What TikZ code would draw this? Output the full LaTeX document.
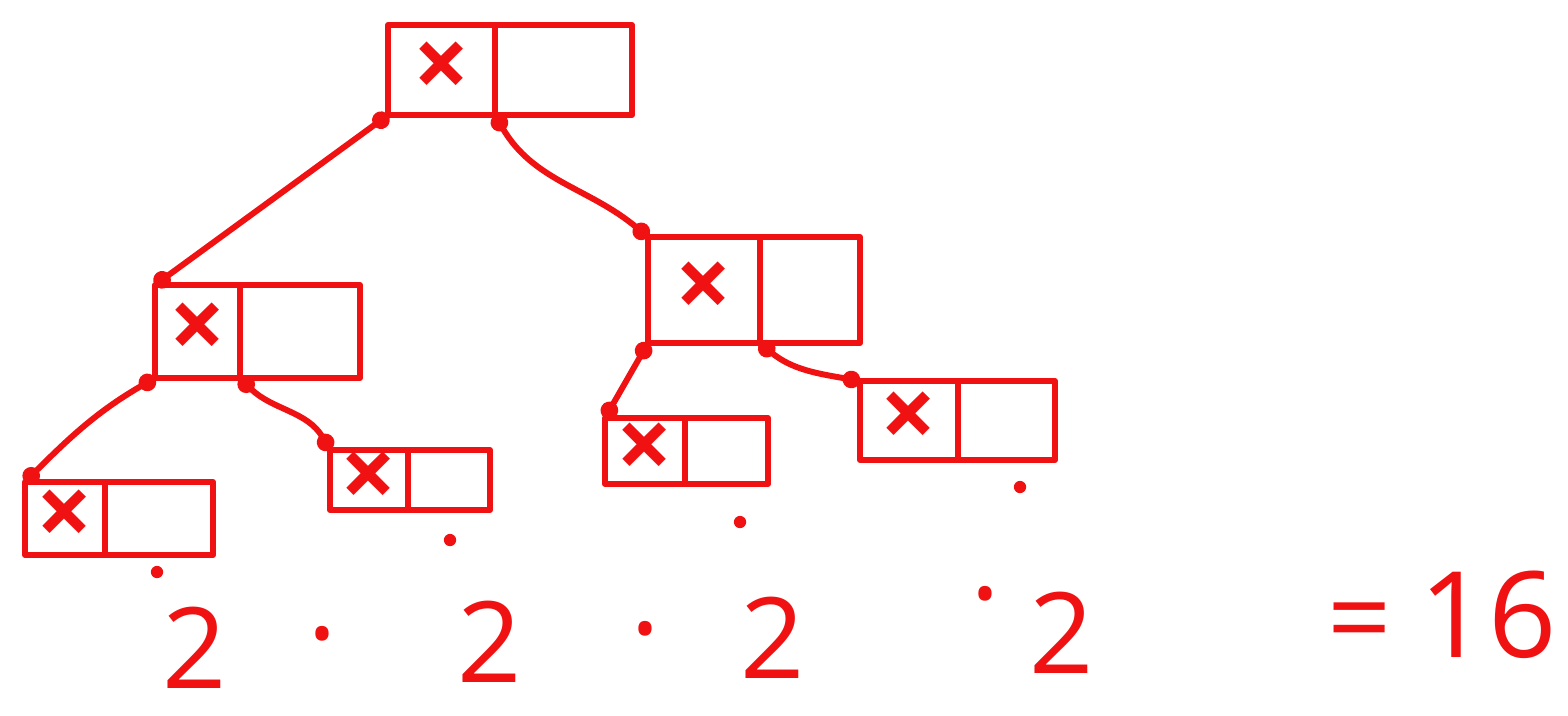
\documentclass[tikz,border=0pt]{standalone}
\usepackage{fontspec}
\setmainfont{Open Sans}
\usetikzlibrary{arrows.meta, positioning}
\definecolor{ink}{RGB}{240, 18, 18}

\tikzset{
  cell/.style={draw=ink, line width=1.7pt, outer sep=0pt, inner sep=0pt,
    line join=round, text=ink, font=\fontsize{28}{28}\selectfont\bfseries},
  link/.style={draw=ink, line width=1.7pt, line cap=round,
    {Circle[length=5pt]}-{Circle[length=5pt]}},
  pdot/.style={circle, fill=ink, inner sep=0pt, minimum size=3.5pt},
  digit/.style={text=ink, inner sep=0pt, font=\fontsize{32}{32}\selectfont}
}

\begin{document}
\begin{tikzpicture}
  \useasboundingbox (0,0) rectangle (15.68,-7.15);

  % root
  \node[cell, anchor=north west, minimum width=1.07cm, minimum height=0.9cm] (rootk) at (3.88,-0.25) {×};
  \node[cell, minimum width=1.37cm, minimum height=0.9cm, right=0pt of rootk] (rootv) {};

  % second level
  \node[cell, anchor=north west, minimum width=0.85cm, minimum height=0.93cm] (lk) at (1.55,-2.85) {×};
  \node[cell, minimum width=1.2cm, minimum height=0.93cm, right=0pt of lk] (lv) {};
  \node[cell, anchor=north west, minimum width=1.12cm, minimum height=1.06cm] (rk) at (6.48,-2.37) {×};
  \node[cell, minimum width=1.0cm, minimum height=1.06cm, right=0pt of rk] (rv) {};

  % leaves
  \node[cell, anchor=north west, minimum width=0.8cm, minimum height=0.73cm] (llk) at (0.25,-4.82) {×};
  \node[cell, minimum width=1.08cm, minimum height=0.73cm, right=0pt of llk] (llv) {};
  \node[cell, anchor=north west, minimum width=0.78cm, minimum height=0.6cm] (lrk) at (3.30,-4.50) {×};
  \node[cell, minimum width=0.82cm, minimum height=0.6cm, right=0pt of lrk] (lrv) {};
  \node[cell, anchor=north west, minimum width=0.8cm, minimum height=0.66cm] (rlk) at (6.05,-4.18) {×};
  \node[cell, minimum width=0.83cm, minimum height=0.66cm, right=0pt of rlk] (rlv) {};
  \node[cell, anchor=north west, minimum width=0.98cm, minimum height=0.79cm] (rrk) at (8.60,-3.81) {×};
  \node[cell, minimum width=0.97cm, minimum height=0.79cm, right=0pt of rrk] (rrv) {};

  % pointers
  \draw[link] (rootk.south west) -- (lk.north west);
  \draw[link] (rootk.south east) to[out=-60, in=140] (rk.north west);
  \draw[link] (lk.south west) to[out=-150, in=45] (llk.north west);
  \draw[link] (lk.south east) to[out=-45, in=120] (lrk.north west);
  \draw[link] (rk.south west) -- (rlk.north west);
  \draw[link] (rk.south east) to[out=-40, in=170] (rrk.north west);

  % marks under the leaves
  \node[pdot] (lld) at (1.57,-5.72) {};
  \node[pdot] (lrd) at (4.50,-5.40) {};
  \node[pdot] (rld) at (7.40,-5.22) {};
  \node[pdot] (rrd) at (10.20,-4.87) {};

  % count
  \node[digit] (two1) at (1.95,-6.48) {2};
  \node[digit] (mul1) at (3.22,-6.50) {·};
  \node[digit] (two2) at (4.90,-6.42) {2};
  \node[digit] (mul2) at (6.45,-6.45) {·};
  \node[digit] (two3) at (7.73,-6.38) {2};
  \node[digit] (mul3) at (9.85,-6.10) {·};
  \node[digit] (two4) at (10.62,-6.33) {2};
  \node[digit] (eq) at (13.60,-6.30) {=};
  \node[digit, font=\fontsize{34}{34}\selectfont] (res) at (14.88,-6.15) {16};
\end{tikzpicture}
\end{document}
